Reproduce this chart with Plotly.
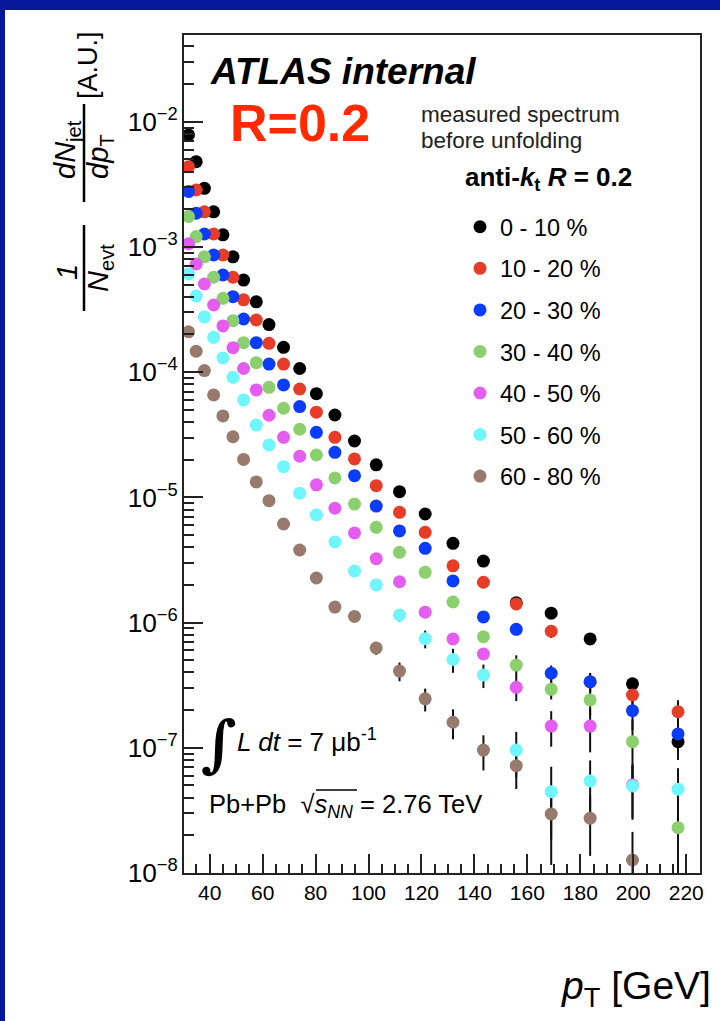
import plotly.graph_objects as go

# ---------------- data ----------------
pt = [32.0, 34.9, 38.0, 41.5, 45.0, 48.8, 52.8, 57.6, 62.4, 67.9, 74.0, 80.3,
      87.3, 94.7, 102.9, 111.7, 121.4, 131.9, 143.4, 155.8, 169.0, 183.7, 199.7, 216.9]

centrality = ["0 - 10 %", "10 - 20 %", "20 - 30 %", "30 - 40 %",
              "40 - 50 %", "50 - 60 %", "60 - 80 %"]

y_0_10 = [7.85e-3, 4.80e-3, 2.94e-3, 1.91e-3, 1.25e-3, 8.35e-4, 5.44e-4, 3.65e-4,
          2.40e-4, 1.58e-4, 1.07e-4, 6.73e-5, 4.55e-5, 2.82e-5, 1.82e-5, 1.11e-5,
          7.37e-6, 4.30e-6, 3.10e-6, 1.44e-6, 1.19e-6, 7.40e-7, 3.24e-7, 1.12e-7]
y_10_20 = [4.37e-3, 2.85e-3, 1.91e-3, 1.27e-3, 8.63e-4, 5.73e-4, 3.78e-4, 2.61e-4,
           1.70e-4, 1.16e-4, 7.34e-5, 4.79e-5, 3.02e-5, 2.03e-5, 1.24e-5, 7.60e-6,
           5.26e-6, 2.84e-6, 2.10e-6, 1.41e-6, 8.53e-7, 3.36e-7, 2.64e-7, 1.94e-7]
y_20_30 = [2.77e-3, 1.86e-3, 1.27e-3, 8.63e-4, 5.97e-4, 4.01e-4, 2.66e-4, 1.72e-4,
           1.16e-4, 7.91e-5, 5.31e-5, 3.31e-5, 2.29e-5, 1.49e-5, 8.53e-6, 5.40e-6,
           3.92e-6, 2.15e-6, 1.11e-6, 8.83e-7, 3.94e-7, 3.37e-7, 1.98e-7, 1.29e-7]
y_30_40 = [1.75e-3, 1.21e-3, 8.35e-4, 5.73e-4, 3.89e-4, 2.58e-4, 1.72e-4, 1.19e-4,
           7.57e-5, 5.15e-5, 3.50e-5, 2.18e-5, 1.43e-5, 8.85e-6, 5.77e-6, 3.64e-6,
           2.52e-6, 1.46e-6, 7.71e-7, 4.58e-7, 2.93e-7, 2.41e-7, 1.12e-7, 2.30e-8]
y_40_50 = [1.06e-3, 7.31e-4, 5.06e-4, 3.44e-4, 2.34e-4, 1.57e-4, 1.07e-4, 7.21e-5,
           4.53e-5, 3.02e-5, 2.13e-5, 1.26e-5, 8.19e-6, 5.20e-6, 3.24e-6, 2.12e-6,
           1.21e-6, 7.40e-7, 5.61e-7, 3.04e-7, 1.49e-7, 1.49e-7, 5.05e-8, None]
y_50_60 = [6.08e-4, 4.06e-4, 2.76e-4, 1.90e-4, 1.30e-4, 9.10e-5, 6.00e-5, 3.78e-5,
           2.62e-5, 1.76e-5, 1.08e-5, 7.23e-6, 4.41e-6, 2.58e-6, 2.00e-6, 1.15e-6,
           7.43e-7, 5.07e-7, 3.81e-7, 9.59e-8, 4.46e-8, 5.43e-8, 4.96e-8, 4.67e-8]
y_60_80 = [2.10e-4, 1.47e-4, 1.03e-4, 6.58e-5, 4.47e-5, 3.05e-5, 2.01e-5, 1.33e-5,
           9.42e-6, 6.13e-6, 3.80e-6, 2.27e-6, 1.33e-6, 1.12e-6, 6.27e-7, 4.10e-7,
           2.46e-7, 1.60e-7, 9.59e-8, 7.19e-8, 2.96e-8, 2.74e-8, 1.27e-8, None]

# statistical uncertainties (absolute)
e_0_10 = [0, 0, 0, 0, 0, 0, 0, 0, 0, 0, 0, 0,
          0, 0, 0, 0, 0, 0, 1.5e-7, 1.0e-7, 8e-8, 6e-8, 3.5e-8, 3.2e-8]
e_10_20 = [0, 0, 0, 0, 0, 0, 0, 0, 0, 0, 0, 0,
           0, 0, 0, 0, 1.5e-7, 1.2e-7, 1.2e-7, 1.0e-7, 1.0e-7, 6e-8, 8e-8, 4.6e-8]
e_20_30 = [0, 0, 0, 0, 0, 0, 0, 0, 0, 0, 0, 0,
           0, 0, 0, 0, 1.5e-7, 1.2e-7, 1.0e-7, 9e-8, 6e-8, 5.7e-8, 6e-8, 4e-8]
e_30_40 = [0, 0, 0, 0, 0, 0, 0, 0, 0, 0, 0, 0,
           0, 0, 0, 0, 1.5e-7, 1.2e-7, 6e-8, 9e-8, 5e-8, 6e-8, 5.6e-8, 2.2e-8]
e_40_50 = [0, 0, 0, 0, 0, 0, 0, 0, 0, 0, 0, 0,
           0, 0, 0, 1.5e-7, 1.2e-7, 7e-8, 5e-8, 6.8e-8, 4.7e-8, 5.7e-8, 2.3e-8, 0]
e_50_60 = [0, 0, 0, 0, 0, 0, 0, 0, 0, 0, 0, 0,
           0, 0, 1.5e-7, 1.3e-7, 1.2e-7, 1.1e-7, 8.1e-8, 3.8e-8, 2.6e-8, 2.5e-8, 2.3e-8, 2.2e-8]
e_60_80 = [0, 0, 0, 0, 0, 0, 0, 0, 0, 0, 0, 0,
           0, 1e-7, 7.5e-8, 7e-8, 5.1e-8, 4.3e-8, 3e-8, 2.5e-8, 1.8e-8, 1.37e-8, 8.6e-9, 0]

spectra = [y_0_10, y_10_20, y_20_30, y_30_40, y_40_50, y_50_60, y_60_80]
errors = [e_0_10, e_10_20, e_20_30, e_30_40, e_40_50, e_50_60, e_60_80]
colors = ["#000000", "#e63c28", "#0a3cfa", "#8ccf6e", "#e45cf0", "#6ef6fc", "#987a6c"]

X_RANGE = [30.3, 225.2]
Y_RANGE_LOG = [-8, -1.307]

FONT = "Liberation Sans, Arial, Helvetica, sans-serif"
FRAME_BLUE = "#07189a"
TICK = "#222222"

# plot-area geometry in pixels (figure is 720 x 1021)
W, H = 720, 1021
L, R, T, B = 184, 700, 35, 873


def px(xp):
    return (xp - L) / (R - L)


def py(yp):
    return (B - yp) / (B - T)


fig = go.Figure()

# error bars first so every marker sits on top of them
for ys, es in zip(spectra, errors):
    fig.add_trace(go.Scatter(
        x=pt, y=ys, mode="markers",
        marker=dict(size=1, color="rgba(0,0,0,0)"),
        error_y=dict(type="data", array=es, symmetric=True,
                     color="#111111", thickness=2, width=0),
        showlegend=False, hoverinfo="skip"))

for name, ys, col in zip(centrality, spectra, colors):
    fig.add_trace(go.Scatter(
        x=pt, y=ys, mode="markers", name=name, legendgroup=name,
        marker=dict(size=13, color=col, line=dict(width=0))))

x_ticks = dict(tickmode="linear", tick0=0, dtick=20,
               ticks="inside", ticklen=19, tickwidth=1.5, tickcolor=TICK,
               minor=dict(dtick=5, ticks="inside", ticklen=9, tickwidth=1.5,
                          tickcolor=TICK, showgrid=False),
               showgrid=False, zeroline=False)
y_ticks = dict(dtick=1, ticks="inside", ticklen=19, tickwidth=1.5, tickcolor=TICK,
               minor=dict(dtick="D1", ticks="inside", ticklen=10, tickwidth=1.5,
                          tickcolor=TICK, showgrid=False),
               showgrid=False, zeroline=False)

fig.update_layout(
    xaxis=dict(range=X_RANGE, showline=True, linewidth=2, linecolor="#222222",
               mirror=True,
               tickfont=dict(family=FONT, size=21, color="black"), **x_ticks),
    yaxis=dict(type="log", range=Y_RANGE_LOG, exponentformat="power",
               showexponent="all",
               showline=True, linewidth=2, linecolor="#222222", mirror=True,
               tickfont=dict(family=FONT, size=21, color="black"), **y_ticks),
    # tick marks repeated along the top and right edges of the frame
    xaxis2=dict(range=X_RANGE, overlaying="x", side="top", anchor="y",
                showticklabels=False, showline=False, **x_ticks),
    yaxis2=dict(type="log", range=Y_RANGE_LOG, overlaying="y", side="right",
                anchor="x", showticklabels=False, showline=False, **y_ticks),
)

ann = []


def text(x, y, s, size, xanchor="left", color="black", angle=0, family=FONT):
    ann.append(dict(x=px(x), y=py(y), xref="paper", yref="paper", text=s,
                    showarrow=False, xanchor=xanchor, yanchor="middle",
                    textangle=angle,
                    font=dict(family=family, size=size, color=color)))


text(208, 72, "<b><i>ATLAS internal</i></b>", 37)
text(228, 123, "<b>R=0.2</b>", 52, color="#ff2a00")
text(419, 115, "measured spectrum", 22.5, color="#222222")
text(419, 140, "before unfolding", 22.5, color="#222222")
text(463, 178, "<b>anti-<i>k</i><sub>t</sub> <i>R</i> = 0.2</b>", 26)
text(199, 743, "<b><i>∫</i></b>", 62, family="DejaVu Serif, serif")
text(235, 740, "<i>L dt</i> = 7 μb<sup>-1</sup>", 26)
text(207, 806, "Pb+Pb  √<i>s</i><sub><i>NN</i></sub> = 2.76 TeV", 25.5)
text(713, 988, "<i>p</i><sub>T</sub> [GeV]", 39, xanchor="right")

# y-axis title built from rotated pieces
text(88, 65, "[A.U.]", 27, xanchor="center", angle=-90)
text(67, 150, "<i>dN</i><sub>jet</sub>", 29, xanchor="center", angle=-90)
text(100, 157, "<i>dp</i><sub>T</sub>", 29, xanchor="center", angle=-90)
text(67, 272, "<i>1</i>", 29, xanchor="center", angle=-90)
text(100, 268, "<i>N</i><sub>evt</sub>", 29, xanchor="center", angle=-90)

shapes = [
    # blue frame along the left and top edges of the page
    dict(type="rect", xref="paper", yref="paper", x0=px(-5), x1=px(5),
         y0=py(-5), y1=py(H + 5), fillcolor=FRAME_BLUE, line=dict(width=0),
         layer="below"),
    dict(type="rect", xref="paper", yref="paper", x0=px(-5), x1=px(W + 5),
         y0=py(-5), y1=py(10), fillcolor=FRAME_BLUE, line=dict(width=0),
         layer="below"),
    # fraction bars of the y title
    dict(type="line", xref="paper", yref="paper", x0=px(84), x1=px(84),
         y0=py(104), y1=py(202), line=dict(color="black", width=2.5)),
    dict(type="line", xref="paper", yref="paper", x0=px(84), x1=px(84),
         y0=py(225), y1=py(311), line=dict(color="black", width=2.5)),
    # radical bar over s_NN
    dict(type="line", xref="paper", yref="paper", x0=px(316), x1=px(357),
         y0=py(790), y1=py(790), line=dict(color="black", width=1.5)),
]

fig.update_layout(
    width=W, height=H,
    margin=dict(l=L, r=W - R, t=T, b=H - B, pad=0),
    paper_bgcolor="white", plot_bgcolor="white",
    font=dict(family=FONT, color="black"),
    annotations=ann, shapes=shapes,
    legend=dict(x=px(460), y=py(205), xanchor="left", yanchor="top",
                bgcolor="rgba(0,0,0,0)", traceorder="grouped",
                tracegroupgap=8, itemsizing="trace",
                font=dict(family=FONT, size=23.5, color="black")),
)

fig.write_html("out.html")
